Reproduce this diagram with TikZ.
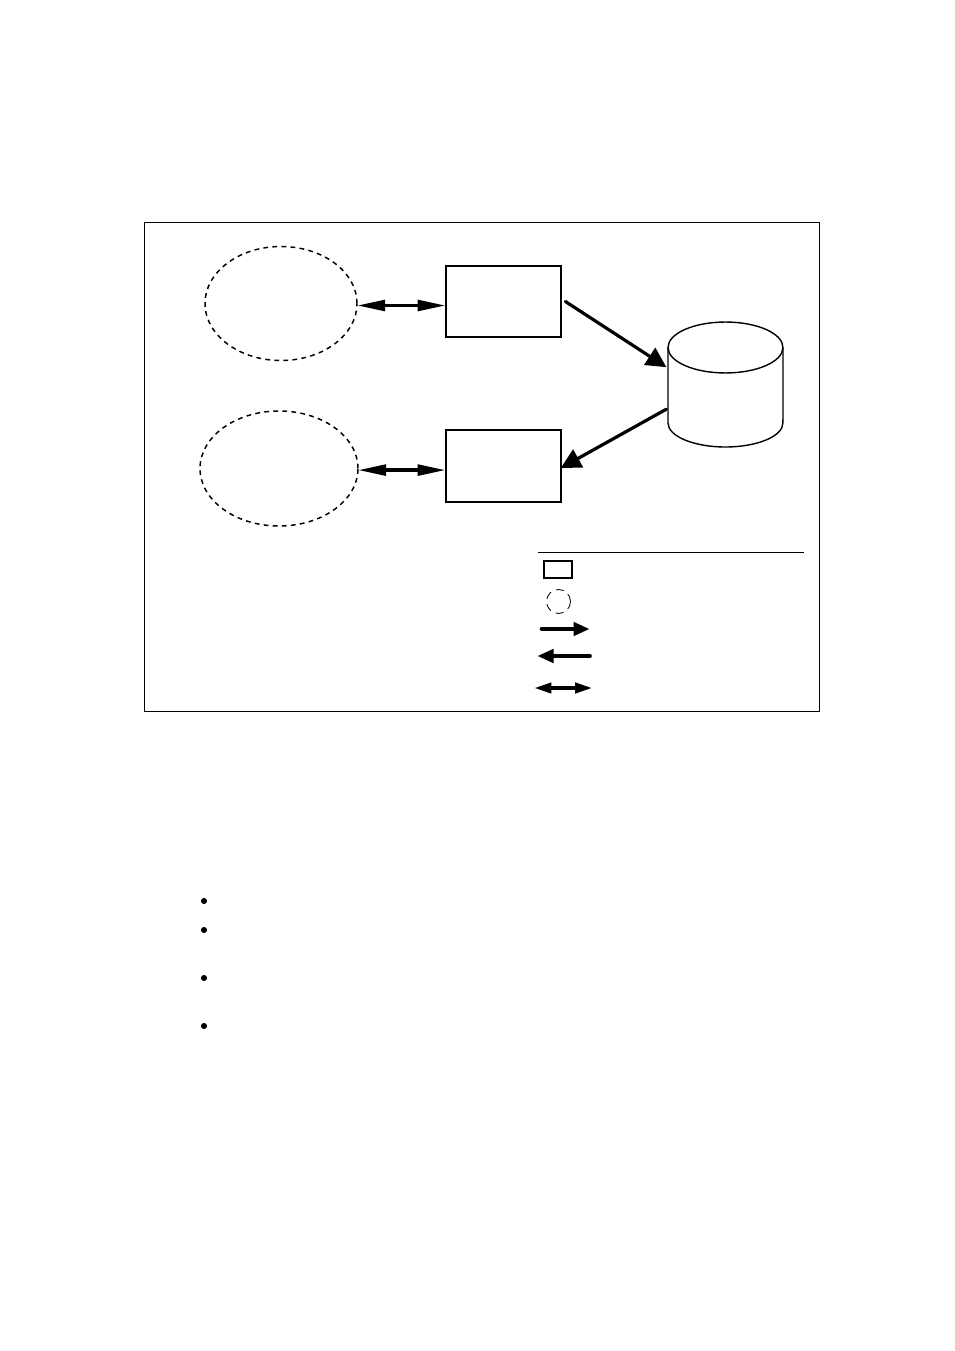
\documentclass[tikz,border=0pt]{standalone}
\usetikzlibrary{arrows.meta,shapes.geometric}
\tikzset{
  x=0.75pt,y=-0.75pt,
  frameline/.style={draw=black,line width=0.75pt,minimum width=506.25pt,minimum height=366.75pt,inner sep=0pt},
  boxnode/.style={draw=black,line width=1.5pt,minimum width=86.25pt,minimum height=53.6pt,inner sep=0pt,outer sep=0pt},
  cloud1/.style={draw=black,line width=1.1pt,dash pattern=on 3.6pt off 3.2pt,ellipse,inner sep=0pt,outer sep=0pt},
  conn/.style={line width=2.4pt,line cap=round},
  bigtip/.style={conn,-{Triangle[length=15pt,width=15pt]}},
  duplex/.style={line width=2.6pt,{Triangle[length=21pt,width=8pt]}-{Triangle[length=21pt,width=8pt]}},
  legtip/.style={line width=2.7pt,line cap=round,-{Triangle[length=12pt,width=10pt]}},
  legduplex/.style={line width=2.9pt,{Triangle[length=13pt,width=7.5pt]}-{Triangle[length=13pt,width=7.5pt]}},
  dbline/.style={draw=black,line width=1.05pt},
}
\begin{document}
\begin{tikzpicture}
\useasboundingbox[fill=white] (0,0) rectangle (954,1351);
\node[frameline] (frame) at (482,467) {};
\node[cloud1,minimum width=114pt,minimum height=85.5pt] (e1) at (281,303.5) {};
\node[cloud1,minimum width=118.5pt,minimum height=86.25pt] (e2) at (279,468.5) {};
\node[boxnode] (b1) at (503.2,301.5) {};
\node[boxnode] (b2) at (503.2,466.1) {};
\node[minimum width=86.25pt,minimum height=93.75pt,inner sep=0pt] (db) at (725.5,384.5) {};
% cylinder
\draw[dbline] (668,347.5) arc[start angle=180,end angle=-180,x radius=43.1pt,y radius=19.1pt];
\draw[dbline] (668,347.5) -- (668,423) arc[start angle=180,end angle=360,x radius=43.1pt,y radius=18pt] -- (783,347.5);
% connectors
\draw[duplex] ([yshift=-1.5pt]e1.east) -- ([yshift=-3pt]b1.west);
\draw[duplex] ([yshift=-1.2pt]e2.east) -- ([yshift=-3pt]b2.west);
\draw[bigtip] ([xshift=3.5pt]b1.east) -- ([yshift=13pt,xshift=-1pt]db.west);
\draw[bigtip] ([yshift=-18.5pt,xshift=-1pt]db.west) -- ([yshift=-1.5pt]b2.east);
% legend
\node[inner sep=0pt,minimum size=0pt] (rulea) at (538,552) {};
\node[inner sep=0pt,minimum size=0pt] (ruleb) at (804,552) {};
\draw[line width=0.6pt] (rulea) -- (ruleb);
\node[draw=black,line width=1.3pt,minimum width=21pt,minimum height=12.5pt,inner sep=0pt] (lbox) at (558,569.5) {};
\node[draw=black,circle,line width=0.6pt,dash pattern=on 6pt off 4pt,minimum size=18pt,inner sep=0pt] (lcirc) at (558.5,601.5) {};
\coordinate (l1a) at (541.5,629);\coordinate (l1b) at (589.5,629);
\coordinate (l2a) at (590,656);\coordinate (l2b) at (537.5,656);
\coordinate (l3a) at (534,688);\coordinate (l3b) at (592.5,688);
\draw[legtip] (l1a) -- (l1b);
\draw[legtip] (l2a) -- (l2b);
\draw[legduplex] (l3a) -- (l3b);
% bullets
\foreach \n/\yy in {p1/901,p2/930,p3/978,p4/1026}{
  \node[fill=black,circle,minimum size=4.6pt,inner sep=0pt] (\n) at (204,\yy) {};
}
\end{tikzpicture}
\end{document}
